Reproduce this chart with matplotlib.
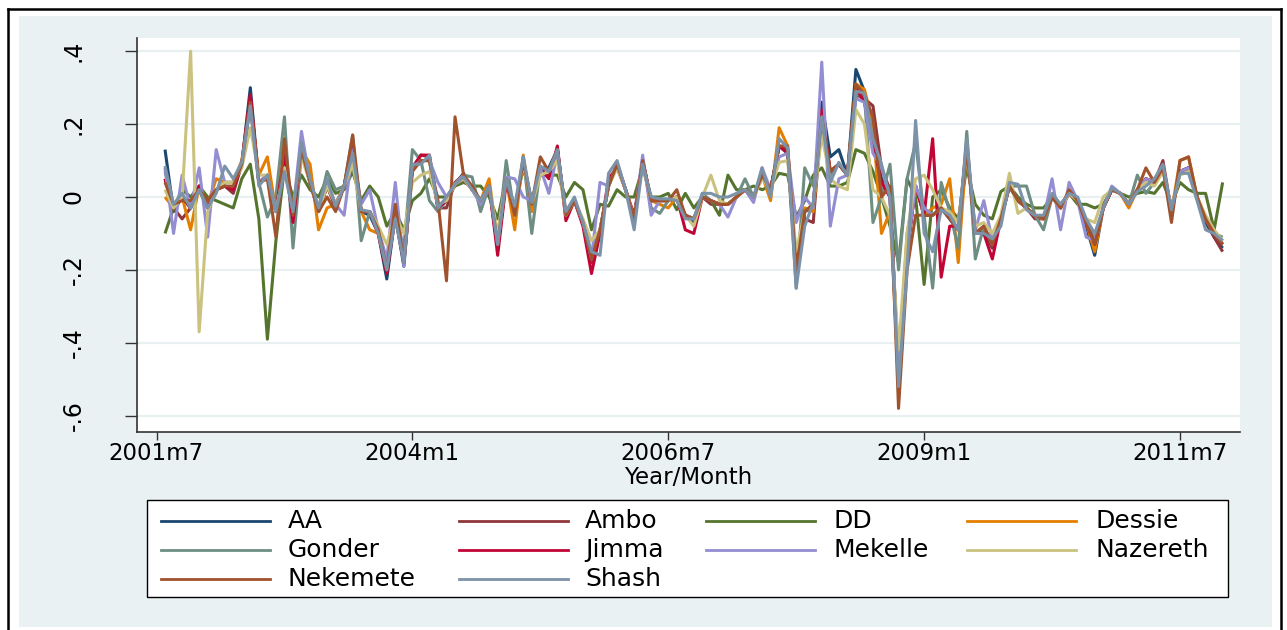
import numpy as np
import matplotlib
matplotlib.use("Agg")
import matplotlib.pyplot as plt
from matplotlib.patches import Rectangle
from matplotlib.lines import Line2D

plt.rcParams['font.family'] = ['DejaVu Sans']

# Monthly changes in log prices, 2001m8 .. 2011m12 (125 months)
first_month = 1          # months after 2001m7
n_months = 125

AA = [0.13, -0.04, 0.00, -0.03, 0.03, -0.02, 0.02, 0.04, 0.04, 0.09,
      0.30, 0.04, 0.06, -0.04, 0.10, -0.04, 0.13, 0.04, -0.04, 0.03,
      -0.02, 0.03, 0.14, -0.04, -0.05, -0.10, -0.225, -0.05, -0.19, 0.08,
      0.10, 0.10, -0.03, -0.01, 0.035, 0.065, 0.02, -0.01, 0.03, -0.14,
      0.05, -0.04, 0.10, -0.02, 0.08, 0.08, 0.13, -0.05, -0.01, -0.07,
      -0.18, -0.09, 0.03, 0.09, 0.02, -0.06, 0.10, -0.01, -0.01, -0.01,
      0.00, -0.05, -0.07, 0.00, -0.01, -0.02, -0.02, 0.00, 0.02, 0.00,
      0.06, 0.02, 0.14, 0.12, -0.21, -0.04, -0.03, 0.26, 0.11, 0.13,
      0.06, 0.35, 0.29, 0.18, 0.05, 0.00, -0.48, -0.15, 0.03, -0.05,
      -0.05, -0.03, -0.06, -0.09, 0.14, -0.10, -0.09, -0.14, -0.06, 0.03,
      -0.01, -0.03, -0.05, -0.06, 0.00, -0.03, 0.01, -0.01, -0.08, -0.16,
      -0.03, 0.02, 0.01, -0.02, 0.02, 0.05, 0.04, 0.08, -0.04, 0.07,
      0.08, 0.00, -0.07, -0.11, -0.14]

Ambo = [0.05, -0.03, -0.06, -0.03, 0.02, -0.03, 0.02, 0.03, 0.01, 0.09,
        0.28, 0.04, 0.05, -0.04, 0.10, -0.05, 0.13, 0.04, -0.04, 0.03,
        -0.03, 0.03, 0.14, -0.04, -0.04, -0.09, -0.20, -0.05, -0.18, 0.08,
        0.115, 0.11, -0.03, -0.03, 0.04, 0.06, 0.02, -0.01, 0.03, -0.14,
        0.05, -0.04, 0.10, -0.02, 0.08, 0.07, 0.13, -0.05, -0.01, -0.07,
        -0.18, -0.10, 0.03, 0.09, 0.02, -0.06, 0.10, -0.01, -0.01, -0.01,
        0.00, -0.05, -0.06, 0.00, -0.02, -0.02, -0.02, 0.00, 0.02, 0.00,
        0.06, 0.02, 0.14, 0.13, -0.20, -0.06, -0.07, 0.22, 0.07, 0.09,
        0.06, 0.28, 0.27, 0.25, 0.08, 0.02, -0.50, -0.15, 0.03, -0.05,
        -0.05, -0.03, -0.06, -0.09, 0.14, -0.10, -0.08, -0.14, -0.06, 0.03,
        -0.01, -0.03, -0.06, -0.06, 0.00, -0.03, 0.01, -0.01, -0.07, -0.12,
        -0.03, 0.02, 0.01, -0.02, 0.02, 0.05, 0.04, 0.10, -0.04, 0.07,
        0.08, 0.00, -0.06, -0.11, -0.15]

DD = [-0.10, -0.03, 0.02, 0.00, 0.03, 0.00, -0.01, -0.02, -0.03, 0.05,
      0.09, -0.06, -0.39, -0.12, 0.08, 0.00, 0.06, 0.02, 0.00, 0.05,
      0.01, 0.02, 0.07, -0.01, 0.03, 0.00, -0.08, -0.04, -0.09, -0.01,
      0.01, 0.05, 0.00, 0.00, 0.03, 0.04, 0.03, 0.03, 0.00, -0.06,
      0.05, -0.03, 0.08, -0.01, 0.06, 0.06, 0.06, 0.00, 0.04, 0.02,
      -0.09, -0.02, -0.025, 0.02, 0.00, 0.00, 0.08, 0.00, 0.00, 0.01,
      -0.035, 0.01, -0.03, 0.00, -0.01, -0.05, 0.06, 0.02, 0.02, 0.03,
      0.02, 0.03, 0.065, 0.06, -0.055, -0.01, 0.06, 0.08, 0.03, 0.03,
      0.04, 0.13, 0.12, 0.07, 0.00, -0.08, -0.18, 0.05, 0.00, -0.24,
      0.00, 0.02, -0.03, -0.06, 0.08, -0.02, -0.05, -0.06, 0.015, 0.03,
      0.00, -0.02, -0.03, -0.03, 0.00, -0.02, 0.01, -0.02, -0.02, -0.03,
      -0.02, 0.02, 0.01, 0.00, 0.01, 0.015, 0.01, 0.04, -0.02, 0.04,
      0.02, 0.01, 0.01, -0.09, 0.04]

Dessie = [0.00, -0.03, 0.00, -0.09, 0.03, -0.02, 0.05, 0.04, 0.04, 0.10,
          0.26, 0.06, 0.11, -0.04, 0.09, -0.04, 0.13, 0.09, -0.09, -0.03,
          -0.02, 0.03, 0.14, -0.04, -0.09, -0.10, -0.19, -0.05, -0.17, 0.08,
          0.10, 0.10, -0.03, -0.01, 0.035, 0.06, 0.02, -0.01, 0.05, -0.13,
          0.05, -0.09, 0.115, -0.04, 0.08, 0.07, 0.13, -0.05, -0.01, -0.07,
          -0.17, -0.09, 0.03, 0.09, 0.02, -0.06, 0.10, -0.01, -0.02, -0.03,
          0.00, -0.05, -0.06, 0.00, -0.01, -0.02, -0.02, 0.00, 0.02, 0.00,
          0.06, -0.01, 0.19, 0.14, -0.20, -0.03, -0.04, 0.22, 0.07, 0.09,
          0.06, 0.31, 0.295, 0.20, -0.10, -0.04, -0.50, -0.10, 0.03, -0.05,
          -0.03, -0.02, 0.05, -0.18, 0.14, -0.10, -0.08, -0.13, -0.06, 0.03,
          -0.01, -0.03, -0.05, -0.06, 0.00, -0.03, 0.01, -0.01, -0.07, -0.15,
          -0.03, 0.02, 0.01, -0.03, 0.02, 0.05, 0.04, 0.08, -0.04, 0.10,
          0.11, 0.00, -0.06, -0.10, -0.13]

Gonder = [0.07, -0.03, 0.00, -0.03, 0.02, -0.03, 0.02, 0.04, 0.04, 0.09,
          0.25, 0.04, -0.055, 0.00, 0.22, -0.14, 0.12, 0.04, -0.03, 0.07,
          0.02, 0.03, 0.17, -0.12, -0.04, -0.09, -0.18, -0.05, -0.14, 0.13,
          0.10, -0.01, -0.04, -0.01, 0.035, 0.06, 0.055, -0.04, 0.03, -0.12,
          0.10, -0.05, 0.11, -0.10, 0.08, 0.07, 0.12, -0.05, -0.01, -0.07,
          -0.16, -0.09, 0.03, 0.09, 0.02, -0.06, 0.10, -0.03, -0.045, -0.01,
          0.00, -0.05, -0.06, 0.01, -0.01, -0.02, -0.02, 0.00, 0.05, 0.00,
          0.06, 0.02, 0.14, 0.12, -0.25, 0.08, 0.03, 0.20, 0.06, 0.09,
          0.06, 0.28, 0.28, -0.07, 0.00, 0.09, -0.20, 0.05, 0.15, -0.05,
          -0.25, 0.04, -0.04, -0.14, 0.18, -0.17, -0.08, -0.13, -0.06, 0.03,
          0.03, 0.03, -0.05, -0.09, 0.00, -0.03, 0.01, -0.01, -0.07, -0.12,
          -0.03, 0.02, 0.01, -0.02, 0.06, 0.01, 0.04, 0.08, -0.04, 0.07,
          0.08, 0.00, -0.06, -0.10, -0.11]

Jimma = [0.05, -0.03, 0.00, -0.03, 0.03, -0.03, 0.02, 0.03, 0.02, 0.09,
         0.28, 0.04, 0.06, -0.04, 0.12, -0.07, 0.13, 0.04, -0.04, 0.03,
         -0.02, 0.03, 0.14, -0.04, -0.04, -0.10, -0.21, -0.05, -0.18, 0.08,
         0.115, 0.115, -0.03, -0.01, 0.035, 0.05, 0.02, -0.01, 0.03, -0.16,
         0.04, -0.04, 0.10, -0.02, 0.08, 0.05, 0.14, -0.065, -0.01, -0.08,
         -0.21, -0.10, 0.05, 0.08, 0.02, -0.05, 0.10, -0.01, -0.01, -0.01,
         0.00, -0.09, -0.10, 0.00, -0.01, -0.02, -0.02, 0.00, 0.02, 0.00,
         0.06, 0.02, 0.14, 0.12, -0.20, -0.04, -0.02, 0.24, 0.07, 0.09,
         0.06, 0.30, 0.26, 0.15, 0.04, 0.00, -0.50, -0.15, 0.03, -0.05,
         0.16, -0.22, -0.08, -0.08, 0.14, -0.10, -0.10, -0.17, -0.06, 0.03,
         -0.01, -0.03, -0.05, -0.06, 0.00, -0.03, 0.01, -0.01, -0.07, -0.13,
         -0.03, 0.02, 0.01, -0.02, 0.02, 0.05, 0.04, 0.08, -0.04, 0.07,
         0.08, 0.00, -0.06, -0.10, -0.13]

Mekelle = [0.08, -0.10, 0.06, -0.03, 0.08, -0.11, 0.13, 0.04, 0.04, 0.09,
           0.25, 0.04, 0.06, -0.04, 0.08, -0.04, 0.18, 0.04, -0.04, 0.04,
           -0.02, -0.05, 0.13, -0.02, 0.02, -0.09, -0.17, 0.04, -0.19, 0.08,
           0.10, 0.10, 0.04, 0.00, 0.035, 0.06, 0.02, -0.02, 0.03, -0.13,
           0.055, 0.05, 0.00, -0.01, 0.08, 0.01, 0.12, -0.05, -0.01, -0.07,
           -0.17, 0.04, 0.03, 0.09, 0.02, -0.06, 0.115, -0.05, -0.01, -0.01,
           0.00, -0.05, -0.06, 0.00, -0.01, -0.02, -0.055, 0.00, 0.02, -0.015,
           0.08, 0.02, 0.11, 0.12, -0.07, 0.00, -0.03, 0.37, -0.08, 0.05,
           0.06, 0.27, 0.26, 0.12, 0.08, 0.00, -0.50, -0.15, 0.03, -0.03,
           -0.05, -0.03, -0.06, -0.09, 0.14, -0.09, -0.01, -0.12, -0.06, 0.03,
           -0.01, -0.03, -0.05, -0.06, 0.05, -0.09, 0.04, -0.01, -0.11, -0.12,
           -0.03, 0.03, 0.01, -0.02, 0.02, 0.05, 0.04, 0.08, -0.04, 0.07,
           0.08, 0.00, -0.06, -0.10, -0.12]

Nazereth = [0.02, -0.03, 0.00, 0.40, -0.37, -0.04, 0.02, 0.04, 0.04, 0.08,
            0.19, 0.06, 0.06, -0.04, 0.08, -0.03, 0.11, 0.04, -0.04, 0.03,
            -0.02, 0.03, 0.09, -0.04, -0.04, -0.08, -0.13, -0.05, -0.10, 0.04,
            0.06, 0.07, -0.02, -0.01, 0.035, 0.05, 0.02, -0.01, 0.03, -0.10,
            0.05, -0.04, 0.09, -0.02, 0.06, 0.07, 0.10, -0.05, -0.01, -0.06,
            -0.12, -0.09, 0.03, 0.08, 0.02, -0.06, 0.09, -0.01, -0.01, -0.01,
            0.00, -0.05, -0.08, 0.00, 0.06, -0.01, -0.02, 0.00, 0.02, 0.00,
            0.05, 0.02, 0.095, 0.10, -0.15, -0.04, -0.02, 0.17, 0.05, 0.03,
            0.02, 0.24, 0.20, 0.02, 0.00, -0.05, -0.42, -0.10, 0.05, 0.06,
            0.02, -0.03, -0.04, -0.07, 0.12, -0.08, -0.07, -0.10, -0.05, 0.065,
            -0.045, -0.03, -0.05, -0.06, 0.00, -0.03, 0.01, -0.01, -0.06, -0.07,
            0.00, 0.02, 0.01, -0.02, 0.02, 0.04, 0.03, 0.07, -0.03, 0.06,
            0.07, 0.00, -0.05, -0.09, -0.12]

Nekemete = [0.04, -0.02, -0.01, -0.01, 0.02, -0.01, 0.02, 0.03, 0.03, 0.09,
            0.26, 0.04, 0.05, -0.11, 0.16, -0.05, 0.13, 0.04, -0.04, 0.00,
            -0.04, 0.03, 0.17, -0.04, -0.04, -0.09, -0.20, -0.02, -0.18, 0.07,
            0.10, 0.10, -0.01, -0.23, 0.22, 0.06, 0.03, -0.01, 0.03, -0.13,
            0.05, -0.05, 0.10, -0.02, 0.11, 0.07, 0.13, -0.05, -0.01, -0.07,
            -0.17, -0.09, 0.03, 0.09, 0.02, -0.06, 0.10, -0.01, -0.01, -0.01,
            0.02, -0.05, -0.06, 0.00, -0.01, -0.02, -0.02, 0.00, 0.02, 0.00,
            0.06, 0.02, 0.14, 0.14, -0.20, -0.04, -0.02, 0.22, 0.07, 0.09,
            0.06, 0.31, 0.28, 0.22, 0.00, 0.03, -0.58, -0.20, -0.05, -0.05,
            -0.05, -0.03, -0.06, -0.09, 0.13, -0.10, -0.08, -0.13, -0.06, 0.03,
            -0.01, -0.03, -0.05, -0.06, 0.00, -0.03, 0.02, -0.01, -0.07, -0.13,
            -0.03, 0.02, 0.01, -0.02, 0.02, 0.08, 0.04, 0.08, -0.07, 0.10,
            0.11, 0.00, -0.06, -0.10, -0.13]

Shash = [0.085, -0.02, 0.01, -0.03, 0.02, -0.03, 0.01, 0.085, 0.05, 0.095,
         0.25, 0.03, 0.06, -0.04, 0.07, -0.04, 0.15, 0.05, -0.03, 0.05,
         -0.025, 0.03, 0.12, -0.035, -0.04, -0.10, -0.20, -0.06, -0.18, 0.09,
         0.09, 0.115, -0.03, 0.00, 0.035, 0.055, 0.02, -0.01, 0.03, -0.13,
         0.05, -0.025, 0.11, -0.015, 0.085, 0.07, 0.13, -0.04, 0.00, -0.07,
         -0.15, -0.16, 0.065, 0.10, 0.02, -0.09, 0.09, 0.00, -0.005, -0.005,
         -0.01, -0.06, -0.06, 0.01, 0.01, 0.00, 0.00, 0.01, 0.02, 0.00,
         0.08, 0.00, 0.16, 0.135, -0.25, -0.08, -0.015, 0.22, 0.04, 0.095,
         0.06, 0.29, 0.285, 0.16, 0.09, 0.00, -0.52, -0.20, 0.21, -0.10,
         -0.15, -0.035, -0.05, -0.09, 0.16, -0.10, -0.10, -0.115, -0.08, 0.04,
         0.035, -0.035, -0.05, -0.05, 0.01, -0.02, 0.01, 0.00, -0.06, -0.10,
         -0.03, 0.025, 0.01, -0.02, 0.015, 0.03, 0.05, 0.09, -0.035, 0.065,
         0.065, -0.01, -0.09, -0.10, -0.12]

cities = ["AA", "Ambo", "DD", "Dessie", "Gonder", "Jimma",
          "Mekelle", "Nazereth", "Nekemete", "Shash"]
series = [AA, Ambo, DD, Dessie, Gonder, Jimma, Mekelle, Nazereth, Nekemete, Shash]
colors = ["#1a476f", "#90353b", "#55752f", "#e37e00", "#6e8e84",
          "#c10534", "#938dd2", "#cac27e", "#a0522d", "#7b92a8"]

xtick_pos = [0, 30, 60, 90, 120]
xtick_labels = ["2001m7", "2004m1", "2006m7", "2009m1", "2011m7"]
ytick_pos = [-0.6, -0.4, -0.2, 0.0, 0.2, 0.4]
ytick_labels = ["-.6", "-.4", "-.2", "0", ".2", ".4"]

W, H = 1287, 630
fig = plt.figure(figsize=(W / 100, H / 100), dpi=100)
fig.patch.set_facecolor("white")


def fx(px):
    return px / W


def fy(py):
    return 1 - py / H


# outer frame and graph region
for xs, ys in [([8, 8], [9, 632]), ([8, 1281], [9, 9]), ([1281, 1281], [9, 632])]:
    fig.add_artist(Line2D([fx(v) for v in xs], [fy(v) for v in ys], color="black",
                          lw=1.8, transform=fig.transFigure))
fig.add_artist(Rectangle((fx(19), fy(627)), fx(1272) - fx(19), fy(16) - fy(627),
                         transform=fig.transFigure, facecolor="#eaf1f3",
                         edgecolor="none", zorder=0))

ax = fig.add_axes([fx(137), fy(432), fx(1240) - fx(137), fy(38) - fy(432)])
ax.set_facecolor("white")

x = np.arange(first_month, first_month + n_months)
for name, vals, c in zip(cities, series, colors):
    ax.plot(x, vals, color=c, lw=2.2, label=name, solid_joinstyle="round",
            solid_capstyle="butt", zorder=3)

px_per_month = (1180 - 156.5) / 120.0
ax.set_xlim((137 - 156.5) / px_per_month, (1240 - 156.5) / px_per_month)
px_per_unit = (416 - 51.5) / 1.0
ax.set_ylim(-(432 - 197) / px_per_unit, (197 - 38) / px_per_unit)

ax.set_yticks(ytick_pos)
ax.set_yticklabels(ytick_labels)
ax.set_xticks(xtick_pos)
ax.set_xticklabels(xtick_labels)
ax.yaxis.grid(True, color="#e9f0f2", lw=1.6, zorder=0)
ax.xaxis.grid(False)
ax.set_axisbelow(True)

for side in ["top", "right"]:
    ax.spines[side].set_visible(False)
for side in ["left", "bottom"]:
    ax.spines[side].set_color("#333333")
    ax.spines[side].set_linewidth(1.2)

ax.tick_params(axis="y", length=9, width=1.0, color="#333333", pad=28,
               labelsize=17)
ax.tick_params(axis="x", length=6, width=1.0, color="#333333", pad=1.5,
               labelsize=16.5)
for lab in ax.get_yticklabels():
    lab.set_rotation(90)
    lab.set_va("center")

fig.text(fx(688.5), fy(478), "Year/Month", ha="center", va="center", fontsize=16.5)

# legend box, filled row by row
fig.add_artist(Rectangle((fx(147), fy(597)), fx(1228) - fx(147), fy(500) - fy(597),
                         transform=fig.transFigure, facecolor="white",
                         edgecolor="black", lw=1.0, zorder=2))
col_line_x = [161, 458.6, 705.6, 966.8]
col_text_x = [287.5, 585, 834, 1095]
row_y = [521, 550, 579]
for k, (name, c) in enumerate(zip(cities, colors)):
    r, col = divmod(k, 4)
    x0 = col_line_x[col]
    fig.add_artist(Line2D([fx(x0), fx(x0 + 109)], [fy(row_y[r]), fy(row_y[r])],
                          color=c, lw=2.0, transform=fig.transFigure, zorder=3))
    fig.text(fx(col_text_x[col]), fy(row_y[r]), name, ha="left", va="center",
             fontsize=18, zorder=3)

fig.savefig("out.png", dpi=100, facecolor=fig.get_facecolor())
